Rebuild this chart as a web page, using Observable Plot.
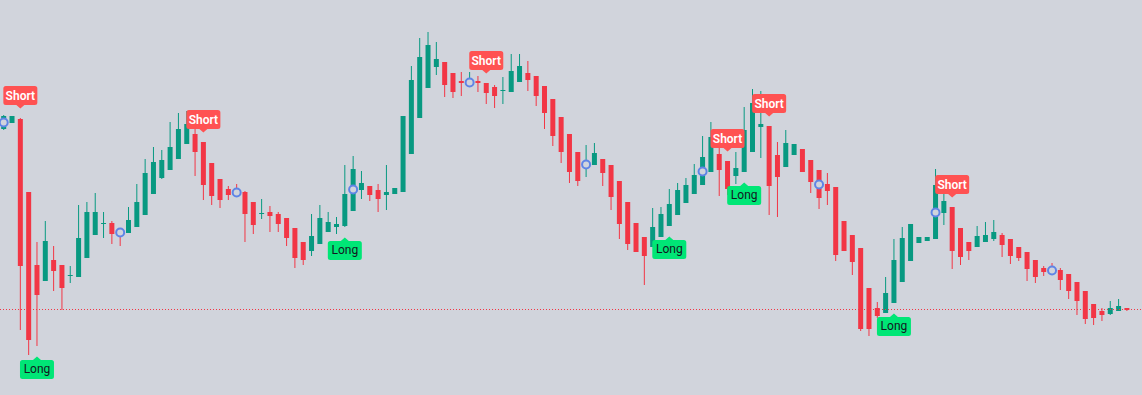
<!DOCTYPE html>
<html>
<head>
<meta charset="utf-8">
<script src="https://cdn.jsdelivr.net/npm/d3@7"></script>
<script src="https://cdn.jsdelivr.net/npm/@observablehq/plot@0.6"></script>
<style>
  html, body { margin: 0; padding: 0; background: #d1d4dc; overflow: hidden; }
  #chart svg { display: block; }
</style>
</head>
<body>
<div id="chart"></div>
<script>
// Candle OHLC values (arbitrary price units), one entry per bar
const open  = [271,277,281,208,135,119,140,135,124,123,142,165,176,177,170,167,173,185,206,222,230,241,256,266,258,237,221,211,211,208,198,186,188,186,182,172,158,149,156,168,173,174,189,210,214,210,205,206,208,246,282,312,333,338,327,319,316,319,317,313,309,308,318,327,324,314,301,283,266,248,233,235,241,235,219,198,177,163,153,163,174,185,197,206,215,228,246,239,224,228,248,273,274,245,233,245,251,240,230,216,213,179,165,152,112,92,87,97,118,139,157,159,161,187,193,172,158,153,158,161,165,161,153,148,140,132,132,130,126,118,109,96,89,86,89,92];
const high  = [285,284,282,208,158,179,154,135,134,195,198,207,188,179,171,193,216,241,253,250,278,287,289,274,258,237,221,214,216,209,198,201,194,188,182,172,158,186,195,188,183,235,244,229,214,216,235,212,284,334,362,368,358,338,327,328,328,324,317,315,323,346,346,339,324,314,301,283,266,248,255,257,241,235,219,198,177,163,192,193,211,217,222,236,264,278,255,239,248,293,311,309,274,258,270,256,251,240,230,227,213,179,165,152,112,98,123,161,173,176,163,163,231,206,193,172,158,174,178,180,167,161,153,148,140,134,137,132,126,118,109,96,92,99,101,92];
const low   = [270,277,70,45,54,119,109,90,117,123,142,165,162,156,154,167,173,185,206,221,230,241,256,224,200,195,192,200,203,158,166,181,168,168,154,132,135,144,156,168,166,173,189,201,199,188,190,206,208,246,282,312,325,303,302,304,314,308,296,292,296,308,318,309,294,271,254,237,217,214,223,235,214,190,161,150,148,115,153,163,174,185,197,206,215,228,204,205,216,228,248,242,185,183,233,245,228,207,191,195,139,149,125,69,64,82,87,97,118,139,157,159,161,175,131,135,140,153,158,159,143,136,139,119,117,124,126,110,101,85,76,75,79,85,89,89];
const close = [284,284,134,60,105,159,129,112,125,162,188,188,177,166,164,180,198,227,238,240,253,271,276,248,215,204,200,205,205,186,175,187,184,176,162,142,140,164,182,178,176,206,231,217,205,201,208,212,284,320,343,355,341,315,308,317,320,317,307,304,310,329,334,320,304,287,264,248,228,219,239,247,227,203,176,156,148,144,173,186,196,210,215,225,243,263,230,211,232,270,297,276,214,223,257,256,228,218,202,209,145,149,138,71,71,84,107,140,162,176,163,163,215,199,149,143,149,164,165,168,155,144,142,131,123,128,128,120,109,99,81,82,85,92,94,90];

// Blue circle markers: bar index and value
const circleIndex = [0,14,28,42,56,70,84,98,112,126];
const circleValue = [278,168,208,211,318,236,229,216,188,130];

// Signal labels: bar indices
const shortIndex = [2,24,58,87,92,114];
const longIndex  = [4,41,80,89,107];

// Last price line
const lastPrice = 91;

const GREEN = "#089981", RED = "#f23645", BG = "#d1d4dc";

const bars = open.map((o, i) => ({i, o, h: high[i], l: low[i], c: close[i]}));
const circles = circleIndex.map((i, k) => ({i, v: circleValue[k]}));
const shorts = shortIndex.map(i => bars[i]);
const longs = longIndex.map(i => bars[i]);

function callout(up) {
  // tip at (0,0); box above (short) or below (long)
  const w = 34, h = 19, t = 3.5, r = 2.5, hw = 4;
  return {
    draw(ctx) {
      const s = up ? -1 : 1;
      const x0 = -w / 2, x1 = w / 2;
      const yn = s * t, yf = s * (t + h);
      ctx.moveTo(0, 0);
      ctx.lineTo(hw, yn);
      ctx.lineTo(x1 - r, yn);
      ctx.arcTo(x1, yn, x1, yn + s * r, r);
      ctx.lineTo(x1, yf - s * r);
      ctx.arcTo(x1, yf, x1 - r, yf, r);
      ctx.lineTo(x0 + r, yf);
      ctx.arcTo(x0, yf, x0, yf - s * r, r);
      ctx.lineTo(x0, yn + s * r);
      ctx.arcTo(x0, yn, x0 + r, yn, r);
      ctx.lineTo(-hw, yn);
      ctx.closePath();
    }
  };
}

const colorOf = d => (d.c >= d.o ? GREEN : RED);

const chart = Plot.plot({
  width: 1142,
  height: 395,
  margin: 0,
  style: {background: BG, fontFamily: "Roboto, 'Liberation Sans', sans-serif"},
  x: {domain: [-0.385, 136.875], axis: null},
  y: {domain: [5, 400], axis: null},
  marks: [
    Plot.ruleX(bars, {x: "i", y1: "l", y2: "h", stroke: colorOf, strokeWidth: 1}),
    Plot.ruleX(bars, {x: "i", y1: "o", y2: "c", stroke: colorOf, strokeWidth: 5}),
    Plot.ruleY([lastPrice], {stroke: RED, strokeWidth: 1, strokeDasharray: "1,2"}),
    Plot.dot(circles, {x: "i", y: "v", r: 4, stroke: "#5f84e6", strokeWidth: 2, fill: BG}),
    Plot.dot(shorts, {x: "i", y: "h", dy: -10, symbol: callout(true), r: 5, fill: "#ff5252", stroke: "none"}),
    Plot.text(shorts, {x: "i", y: "h", dy: -22.5, text: () => "Short", fill: "white", fontSize: 12, fontWeight: 600}),
    Plot.dot(longs, {x: "i", y: "l", dy: 10, symbol: callout(false), r: 5, fill: "#00e676", stroke: "none"}),
    Plot.text(longs, {x: "i", y: "l", dy: 22.5, text: () => "Long", fill: "#131722", fontSize: 12})
  ]
});
document.getElementById("chart").append(chart);
</script>
</body>
</html>
